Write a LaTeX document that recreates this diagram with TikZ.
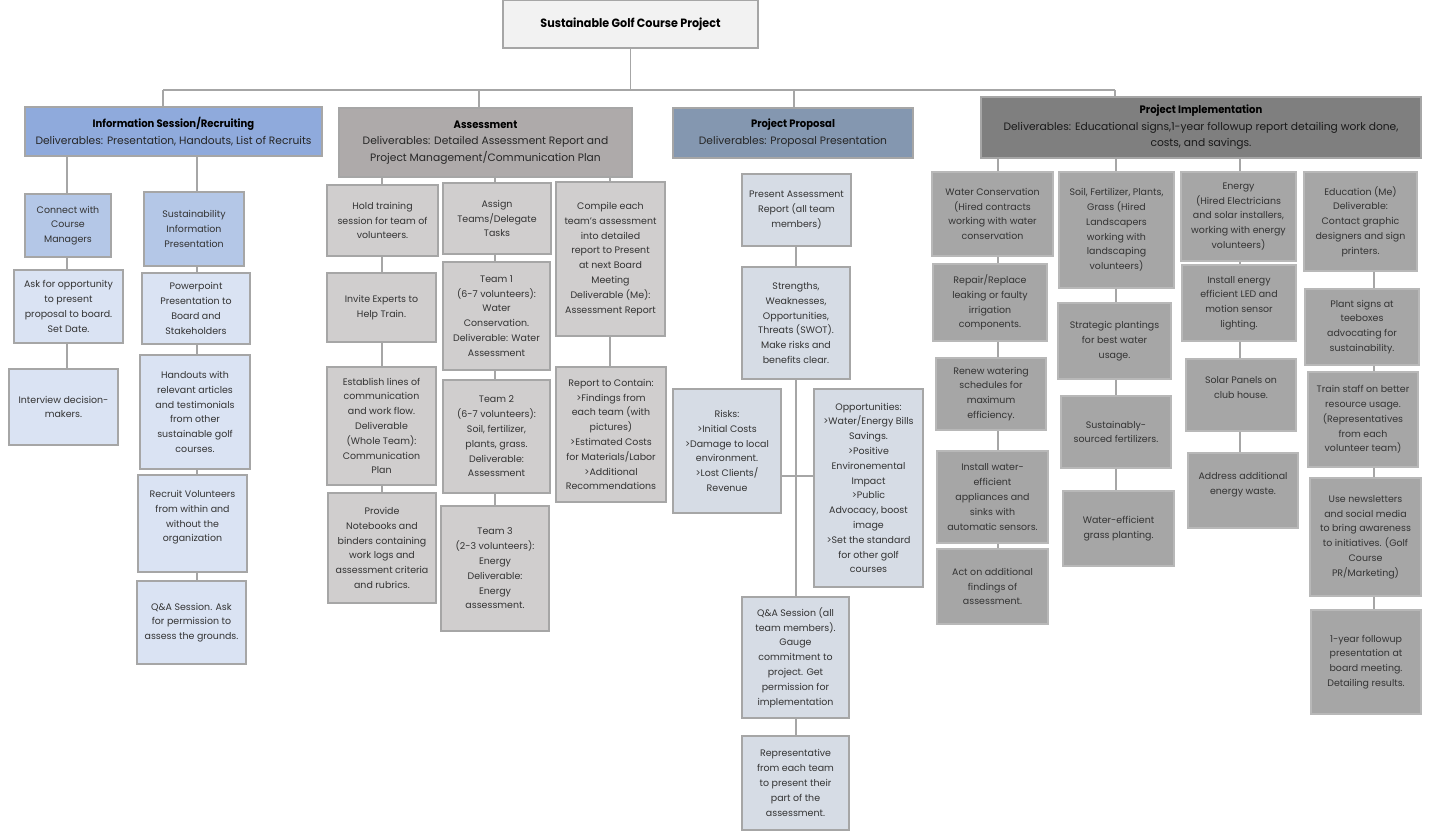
\documentclass[tikz,border=0pt]{standalone}
\usepackage{fontspec}
\setmainfont{Poppins}
\newfontfamily\tfont{Poppins}[FakeStretch=0.93]
\usetikzlibrary{shadows}
\definecolor{conn}{HTML}{A6A6A6}
\definecolor{boxline}{HTML}{A6A6A6}
\definecolor{txt}{HTML}{333333}
\definecolor{topf}{HTML}{F2F2F2}
\definecolor{infof}{HTML}{8FAADC}
\definecolor{infoc1}{HTML}{B4C7E7}
\definecolor{infoc2}{HTML}{DAE3F3}
\definecolor{assf}{HTML}{AEAAAA}
\definecolor{assc}{HTML}{D0CECE}
\definecolor{propf}{HTML}{8497B0}
\definecolor{propc}{HTML}{D6DCE5}
\definecolor{implf}{HTML}{7F7F7F}
\definecolor{implc}{HTML}{A6A6A6}
\newcommand\bx[7]{\node[box,#6,minimum width={(#4-#2)*1pt},minimum height={(#5-#3)*1pt}] (#1) at ({(#2+#4)/2},{(#3+#5)/2}) {#7};}
\newcommand\ttl[1]{{\tfont\bfseries\color{black}\fontsize{10.8}{16.5}\selectfont#1}}
\begin{document}
\begin{tikzpicture}[x=1pt,y=-1pt,
  box/.style={draw=boxline, line width=1.1pt, inner sep=1pt, align=center, text=txt,
    font=\fontsize{9.45}{14.8}\selectfont,
    drop shadow={shadow xshift=1.2pt, shadow yshift=-1.2pt, opacity=0.25, fill=black}},
  head/.style={font=\fontsize{10.7}{16.5}\selectfont, text=black!85},
  conline/.style={draw=conn, line width=1.6pt}]
\useasboundingbox (0,0) rectangle (1429,836);

% top
\bx{top}{503}{0}{758}{48}{fill=topf}{{\tfont\bfseries\color{black}\fontsize{12}{14}\selectfont Sustainable Golf Course Project}}

% level 1
\bx{info}{25}{107}{322}{156}{fill=infof,head}{\ttl{Information Session/Recruiting}\\Deliverables: Presentation, Handouts, List of Recruits}
\bx{ass}{339}{108}{632}{177}{fill=assf,head}{\ttl{Assessment}\\Deliverables: Detailed Assessment Report and\\Project Management/Communication Plan}
\bx{prop}{673}{108}{913}{158}{fill=propf,head}{\ttl{Project Proposal}\\Deliverables: Proposal Presentation}
\bx{impl}{981}{97}{1421}{158}{fill=implf,head,text=black!90}{\ttl{Project Implementation}\\Deliverables: Educational signs,1-year followup report detailing work done,\\costs, and savings.}

% information session children
\bx{iA1}{25}{194}{111}{257}{fill=infoc1}{Connect with\\Course\\Managers}
\bx{iA2}{14}{270}{123}{343}{fill=infoc2}{Ask for opportunity\\to present\\proposal to board.\\Set Date.}
\bx{iA3}{9}{369}{118}{445}{fill=infoc2}{Interview decision-\\makers.}
\bx{iB1}{144}{192}{244}{266}{fill=infoc1}{Sustainability\\Information\\Presentation}
\bx{iB2}{142}{273}{250}{344}{fill=infoc2}{Powerpoint\\Presentation to\\Board and\\Stakeholders}
\bx{iB3}{140}{355}{250}{469}{fill=infoc2}{Handouts with\\relevant articles\\and testimonials\\from other\\sustainable golf\\courses.}
\bx{iB4}{138}{475}{247}{572}{fill=infoc2}{Recruit Volunteers\\from within and\\without the\\organization\\\mbox{}}
\bx{iB5}{137}{581}{246}{664}{fill=infoc2}{Q\&A Session. Ask\\for permission to\\assess the grounds.}

% assessment children
\bx{aA1}{327}{185}{438}{256}{fill=assc}{Hold training\\session for team of\\volunteers.}
\bx{aA2}{327}{273}{436}{342}{fill=assc}{Invite Experts to\\Help Train.}
\bx{aA3}{327}{367}{436}{485}{fill=assc}{Establish lines of\\communication\\and work flow.\\Deliverable\\(Whole Team):\\Communication\\Plan}
\bx{aA4}{328}{493}{436}{603}{fill=assc}{Provide\\Notebooks and\\binders containing\\work logs and\\assessment criteria\\and rubrics.}
\bx{aB1}{443}{183}{551}{254}{fill=assc}{Assign\\Teams/Delegate\\Tasks}
\bx{aB2}{443}{262}{550}{370}{fill=assc}{Team 1\\(6-7 volunteers):\\Water\\Conservation.\\Deliverable: Water\\Assessment}
\bx{aB3}{443}{380}{550}{493}{fill=assc}{Team 2\\(6-7 volunteers):\\Soil, fertilizer,\\plants, grass.\\Deliverable:\\Assessment}
\bx{aB4}{441}{506}{549}{631}{fill=assc}{Team 3\\(2-3 volunteers):\\Energy\\Deliverable:\\Energy\\assessment.}
\bx{aC1}{556}{182}{665}{336}{fill=assc}{Compile each\\team's assessment\\into detailed\\report to Present\\at next Board\\Meeting\\Deliverable (Me):\\Assessment Report}
\bx{aC2}{556}{367}{666}{502}{fill=assc}{Report to Contain:\\>Findings from\\each team (with\\pictures)\\>Estimated Costs\\for Materials/Labor\\>Additional\\Recommendations}

% proposal children
\bx{p1}{742}{174}{851}{246}{fill=propc}{Present Assessment\\Report (all team\\members)}
\bx{p2}{742}{267}{850}{379}{fill=propc}{Strengths,\\Weaknesses,\\Opportunities,\\Threats (SWOT).\\Make risks and\\benefits clear.}
\bx{pR}{673}{389}{781}{513}{fill=propc}{Risks:\\>Initial Costs\\>Damage to local\\environment.\\>Lost Clients/\\Revenue}
\bx{pO}{814}{389}{923}{587}{fill=propc}{Opportunities:\\>Water/Energy Bills\\Savings.\\>Positive\\Environemental\\Impact\\>Public\\Advocacy, boost\\image\\>Set the standard\\for other golf\\courses}
\bx{p3}{742}{597}{849}{718}{fill=propc}{Q\&A Session (all\\team members).\\Gauge\\commitment to\\project. Get\\permission for\\implementation}
\bx{p4}{742}{736}{849}{830}{fill=propc}{Representative\\from each team\\to present their\\part of the\\assessment.}

% implementation children
\bx{w1}{932}{172}{1053}{256}{fill=implc,draw=implc!80}{Water Conservation\\(Hired contracts\\working with water\\conservation}
\bx{w2}{933}{264}{1047}{341}{fill=implc,draw=implc!80}{Repair/Replace\\leaking or faulty\\irrigation\\components.}
\bx{w3}{936}{358}{1046}{430}{fill=implc,draw=implc!80}{Renew watering\\schedules for\\maximum\\efficiency.}
\bx{w4}{937}{451}{1048}{543}{fill=implc,draw=implc!80}{Install water-\\efficient\\appliances and\\sinks with\\automatic sensors.}
\bx{w5}{937}{549}{1048}{624}{fill=implc,draw=implc!80}{Act on additional\\findings of\\assessment.}
\bx{s1}{1059}{172}{1174}{288}{fill=implc,draw=implc!80}{Soil, Fertilizer, Plants,\\Grass (Hired\\Landscapers\\working with\\landscaping\\volunteers)}
\bx{s2}{1058}{303}{1171}{379}{fill=implc,draw=implc!80}{Strategic plantings\\for best water\\usage.}
\bx{s3}{1061}{396}{1171}{468}{fill=implc,draw=implc!80}{Sustainably-\\sourced fertilizers.}
\bx{s4}{1063}{491}{1174}{566}{fill=implc,draw=implc!80}{Water-efficient\\grass planting.}
\bx{e1}{1181}{172}{1296}{261}{fill=implc,draw=implc!80}{Energy\\(Hired Electricians\\and solar installers,\\working with energy\\volunteers)}
\bx{e2}{1182}{265}{1296}{341}{fill=implc,draw=implc!80}{Install energy\\efficient LED and\\motion sensor\\lighting.}
\bx{e3}{1186}{359}{1296}{431}{fill=implc,draw=implc!80}{Solar Panels on\\club house.\\\mbox{}}
\bx{e4}{1188}{453}{1298}{528}{fill=implc,draw=implc!80}{Address additional\\energy waste.\\\mbox{}}
\bx{d1}{1304}{172}{1417}{271}{fill=implc,draw=implc!80}{Education (Me)\\Deliverable:\\Contact graphic\\designers and sign\\printers.}
\bx{d2}{1305}{289}{1419}{365}{fill=implc,draw=implc!80}{Plant signs at\\teeboxes\\advocating for\\sustainability.}
\bx{d3}{1308}{372}{1418}{467}{fill=implc,draw=implc!80}{Train staff on better\\resource usage.\\(Representatives\\from each\\volunteer team)}
\bx{d4}{1310}{478}{1421}{596}{fill=implc,draw=implc!80}{Use newsletters\\and social media\\to bring awareness\\to initiatives. (Golf\\Course\\PR/Marketing)}
\bx{d5}{1311}{610}{1421}{714}{fill=implc,draw=implc!80}{1-year followup\\presentation at\\board meeting.\\Detailing results.}

% column x positions
\coordinate (bus1) at (163,90);
\coordinate (bus2) at (479,90);
\coordinate (bus3) at (794,90);
\coordinate (bus4) at (1115,90);
\coordinate (xA) at (67,0);
\coordinate (xB) at (197,0);
\coordinate (xH) at (382,0);
\coordinate (xT) at (495,0);
\coordinate (xC) at (610,0);
\coordinate (xP) at (796,0);
\coordinate (xW) at (998,0);
\coordinate (xS) at (1116,0);
\coordinate (xE) at (1240,0);
\coordinate (xD) at (1374,0);
\coordinate (hy) at (0,476);

% top bus
\draw[conline] (top.south) -- (top.south |- bus1);
\draw[conline] (bus1) -- (bus4);
\draw[conline] (bus1) -- (bus1 |- info.north);
\draw[conline] (bus2) -- (bus2 |- ass.north);
\draw[conline] (bus3) -- (bus3 |- prop.north);
\draw[conline] (bus4) -- (bus4 |- impl.north);

% information
\draw[conline] (info.south -| xA) -- (iA1.north -| xA);
\draw[conline] (iA1.south -| xA) -- (iA2.north -| xA);
\draw[conline] (iA2.south -| xA) -- (iA3.north -| xA);
\draw[conline] (info.south -| xB) -- (iB1.north -| xB);
\draw[conline] (iB1.south -| xB) -- (iB2.north -| xB);
\draw[conline] (iB2.south -| xB) -- (iB3.north -| xB);
\draw[conline] (iB3.south -| xB) -- (iB4.north -| xB);
\draw[conline] (iB4.south -| xB) -- (iB5.north -| xB);

% assessment
\draw[conline] (ass.south -| xH) -- (aA1.north -| xH);
\draw[conline] (aA1.south -| xH) -- (aA2.north -| xH);
\draw[conline] (aA2.south -| xH) -- (aA3.north -| xH);
\draw[conline] (aA3.south -| xH) -- (aA4.north -| xH);
\draw[conline] (ass.south -| xT) -- (aB1.north -| xT);
\draw[conline] (aB1.south -| xT) -- (aB2.north -| xT);
\draw[conline] (aB2.south -| xT) -- (aB3.north -| xT);
\draw[conline] (aB3.south -| xT) -- (aB4.north -| xT);
\draw[conline] (ass.south -| xC) -- (aC1.north -| xC);
\draw[conline] (aC1.south -| xC) -- (aC2.north -| xC);

% proposal
\draw[conline] (p1.south -| xP) -- (p2.north -| xP);
\draw[conline] (p2.south -| xP) -- (p3.north -| xP);
\draw[conline] (pR.east |- hy) -- (pO.west |- hy);
\draw[conline] (p3.south -| xP) -- (p4.north -| xP);

% implementation
\draw[conline] (impl.south -| xW) -- (w1.north -| xW);
\draw[conline] (w1.south -| xW) -- (w2.north -| xW);
\draw[conline] (w2.south -| xW) -- (w3.north -| xW);
\draw[conline] (w3.south -| xW) -- (w4.north -| xW);
\draw[conline] (w4.south -| xW) -- (w5.north -| xW);
\draw[conline] (impl.south -| xS) -- (s1.north -| xS);
\draw[conline] (s1.south -| xS) -- (s2.north -| xS);
\draw[conline] (s2.south -| xS) -- (s3.north -| xS);
\draw[conline] (s3.south -| xS) -- (s4.north -| xS);
\draw[conline] (impl.south -| xE) -- (e1.north -| xE);
\draw[conline] (e1.south -| xE) -- (e2.north -| xE);
\draw[conline] (e2.south -| xE) -- (e3.north -| xE);
\draw[conline] (e3.south -| xE) -- (e4.north -| xE);
\draw[conline] (d1.south -| xD) -- (d2.north -| xD);
\draw[conline] (d2.south -| xD) -- (d3.north -| xD);
\draw[conline] (d3.south -| xD) -- (d4.north -| xD);
\draw[conline] (d4.south -| xD) -- (d5.north -| xD);
\end{tikzpicture}
\end{document}
